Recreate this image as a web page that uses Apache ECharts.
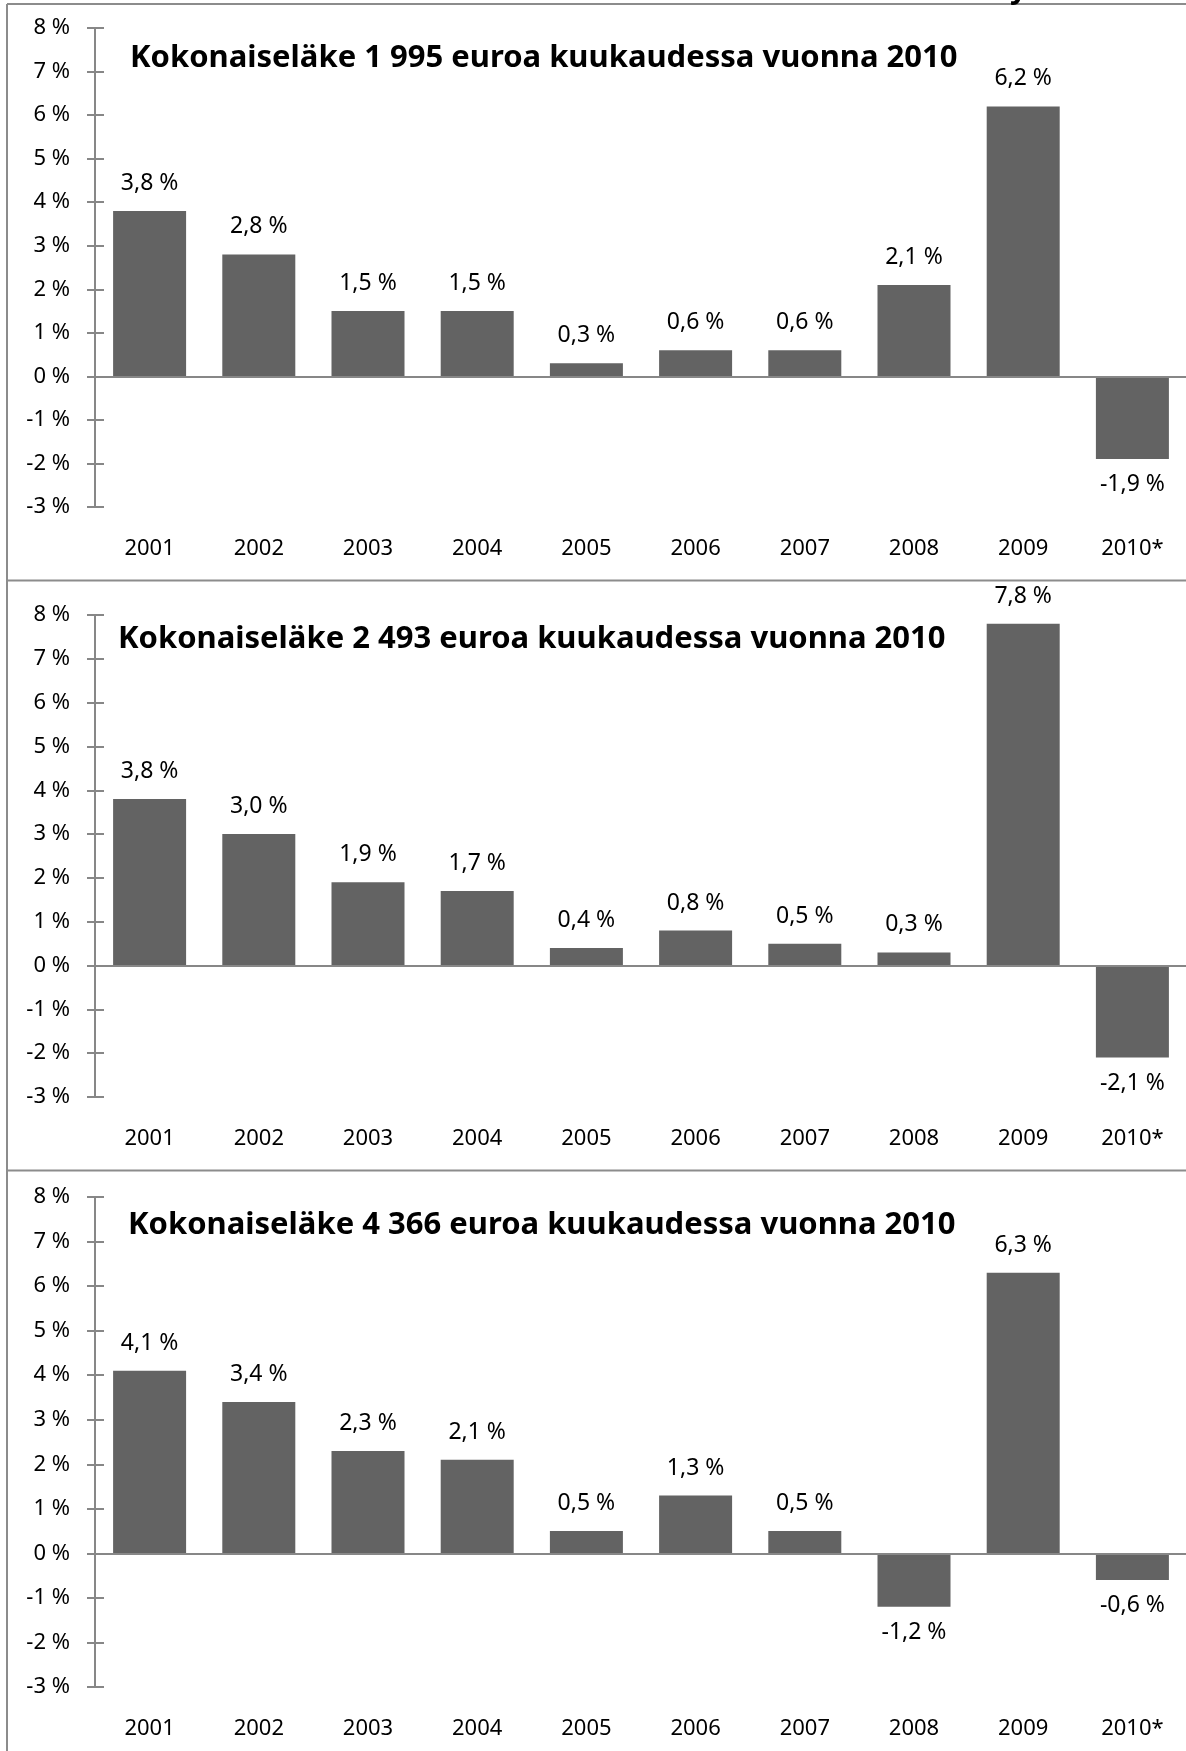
<!DOCTYPE html>
<html>
<head>
<meta charset="utf-8">
<script src="https://cdn.jsdelivr.net/npm/echarts@6/dist/echarts.min.js"></script>
<style>
  html, body { margin: 0; padding: 0; background: #fff; }
  #chart { width: 1186px; height: 1751px; }
</style>
</head>
<body>
<div id="chart"></div>
<script>
// vuodet
const years = ['2001', '2002', '2003', '2004', '2005', '2006', '2007', '2008', '2009', '2010*'];

// otsikot
const titles = [
  'Kokonaiseläke 1 995 euroa kuukaudessa vuonna 2010',
  'Kokonaiseläke 2 493 euroa kuukaudessa vuonna 2010',
  'Kokonaiseläke 4 366 euroa kuukaudessa vuonna 2010'
];

// muutos %, eläke 1 995 €
const pension1995 = [3.8, 2.8, 1.5, 1.5, 0.3, 0.6, 0.6, 2.1, 6.2, -1.9];
// muutos %, eläke 2 493 €
const pension2493 = [3.8, 3.0, 1.9, 1.7, 0.4, 0.8, 0.5, 0.3, 7.8, -2.1];
// muutos %, eläke 4 366 €
const pension4366 = [4.1, 3.4, 2.3, 2.1, 0.5, 1.3, 0.5, -1.2, 6.3, -0.6];

// y-akseli
const yMin = -3;
const yMax = 8;
const yStep = 1;

const FONT = '"Noto Sans", "Open Sans", sans-serif';
const GREY = '#878787';
const BAR = '#636363';

const panels = [
  { title: titles[0], data: pension1995, top: 28, height: 479, titleX: 130, titleY: 43 },
  { title: titles[1], data: pension2493, top: 615, height: 482, titleX: 118, titleY: 624 },
  { title: titles[2], data: pension4366, top: 1197, height: 490, titleX: 128, titleY: 1210 }
];

const chart = echarts.init(document.getElementById('chart'));

const fmt = v => v.toFixed(1).replace('.', ',') + ' %';

const option = {
  animation: false,
  backgroundColor: '#fff',
  title: panels.map(p => ({
    text: p.title,
    left: p.titleX,
    top: p.titleY,
    padding: 0,
    textStyle: { fontFamily: FONT, fontSize: 31, fontWeight: 'bold', color: '#000' }
  })),
  grid: panels.map(p => ({
    left: 95,
    top: p.top,
    width: 1092,
    height: p.height,
    containLabel: false,
    outerBoundsMode: 'none'
  })),
  xAxis: panels.map((p, i) => ({
    type: 'category',
    gridIndex: i,
    data: years,
    axisLine: { show: false, onZero: false },
    axisTick: { show: false },
    axisLabel: { margin: 31, fontFamily: FONT, fontSize: 22, color: '#000' }
  })),
  yAxis: panels.flatMap((p, i) => [
    {
      type: 'value',
      gridIndex: i,
      min: yMin, max: yMax, interval: yStep,
      axisLine: { show: true, lineStyle: { color: GREY, width: 2 } },
      axisTick: { show: true, length: 8, lineStyle: { color: GREY, width: 2 } },
      splitLine: { show: false },
      axisLabel: { margin: 25, fontFamily: FONT, fontSize: 22, color: '#000', formatter: v => v + ' %' }
    },
    {
      // sisäpuolen tikit (Excelin ristitikit)
      type: 'value',
      gridIndex: i,
      position: 'left',
      min: yMin, max: yMax, interval: yStep,
      axisLine: { show: false },
      axisTick: { show: true, inside: true, length: 9, lineStyle: { color: GREY, width: 2 } },
      splitLine: { show: false },
      axisLabel: { show: false }
    }
  ]),
  series: panels.map((p, i) => ({
    type: 'bar',
    xAxisIndex: i,
    yAxisIndex: i * 2,
    barWidth: 73,
    itemStyle: { color: BAR },
    data: p.data.map(v => ({
      value: v,
      label: { position: v < 0 ? 'bottom' : 'top', distance: v < 0 ? 14 : 16 }
    })),
    label: {
      show: true,
      fontFamily: FONT,
      fontSize: 23,
      color: '#000',
      formatter: d => fmt(d.value)
    },
    markLine: {
      silent: true,
      symbol: 'none',
      label: { show: false },
      lineStyle: { color: GREY, width: 2, type: 'solid' },
      data: [{ yAxis: 0 }]
    }
  })),
  graphic: [
    // paneelien reunat
    { type: 'line', shape: { x1: 7, y1: 4, x2: 7, y2: 1751 }, style: { stroke: '#8c8c8c', lineWidth: 2 } },
    { type: 'line', shape: { x1: 7, y1: 4, x2: 1186, y2: 4 }, style: { stroke: '#8c8c8c', lineWidth: 2 } },
    { type: 'line', shape: { x1: 7, y1: 580.5, x2: 1186, y2: 580.5 }, style: { stroke: '#8c8c8c', lineWidth: 2 } },
    { type: 'line', shape: { x1: 7, y1: 1170.5, x2: 1186, y2: 1170.5 }, style: { stroke: '#8c8c8c', lineWidth: 2 } },
    // yläpuolelta leikkautunut otsikon kirjain
    { type: 'text', left: 1010, top: -26, style: { text: 'y', font: 'bold 30px ' + FONT, fill: '#000' } }
  ]
};

chart.setOption(option);
</script>
</body>
</html>
